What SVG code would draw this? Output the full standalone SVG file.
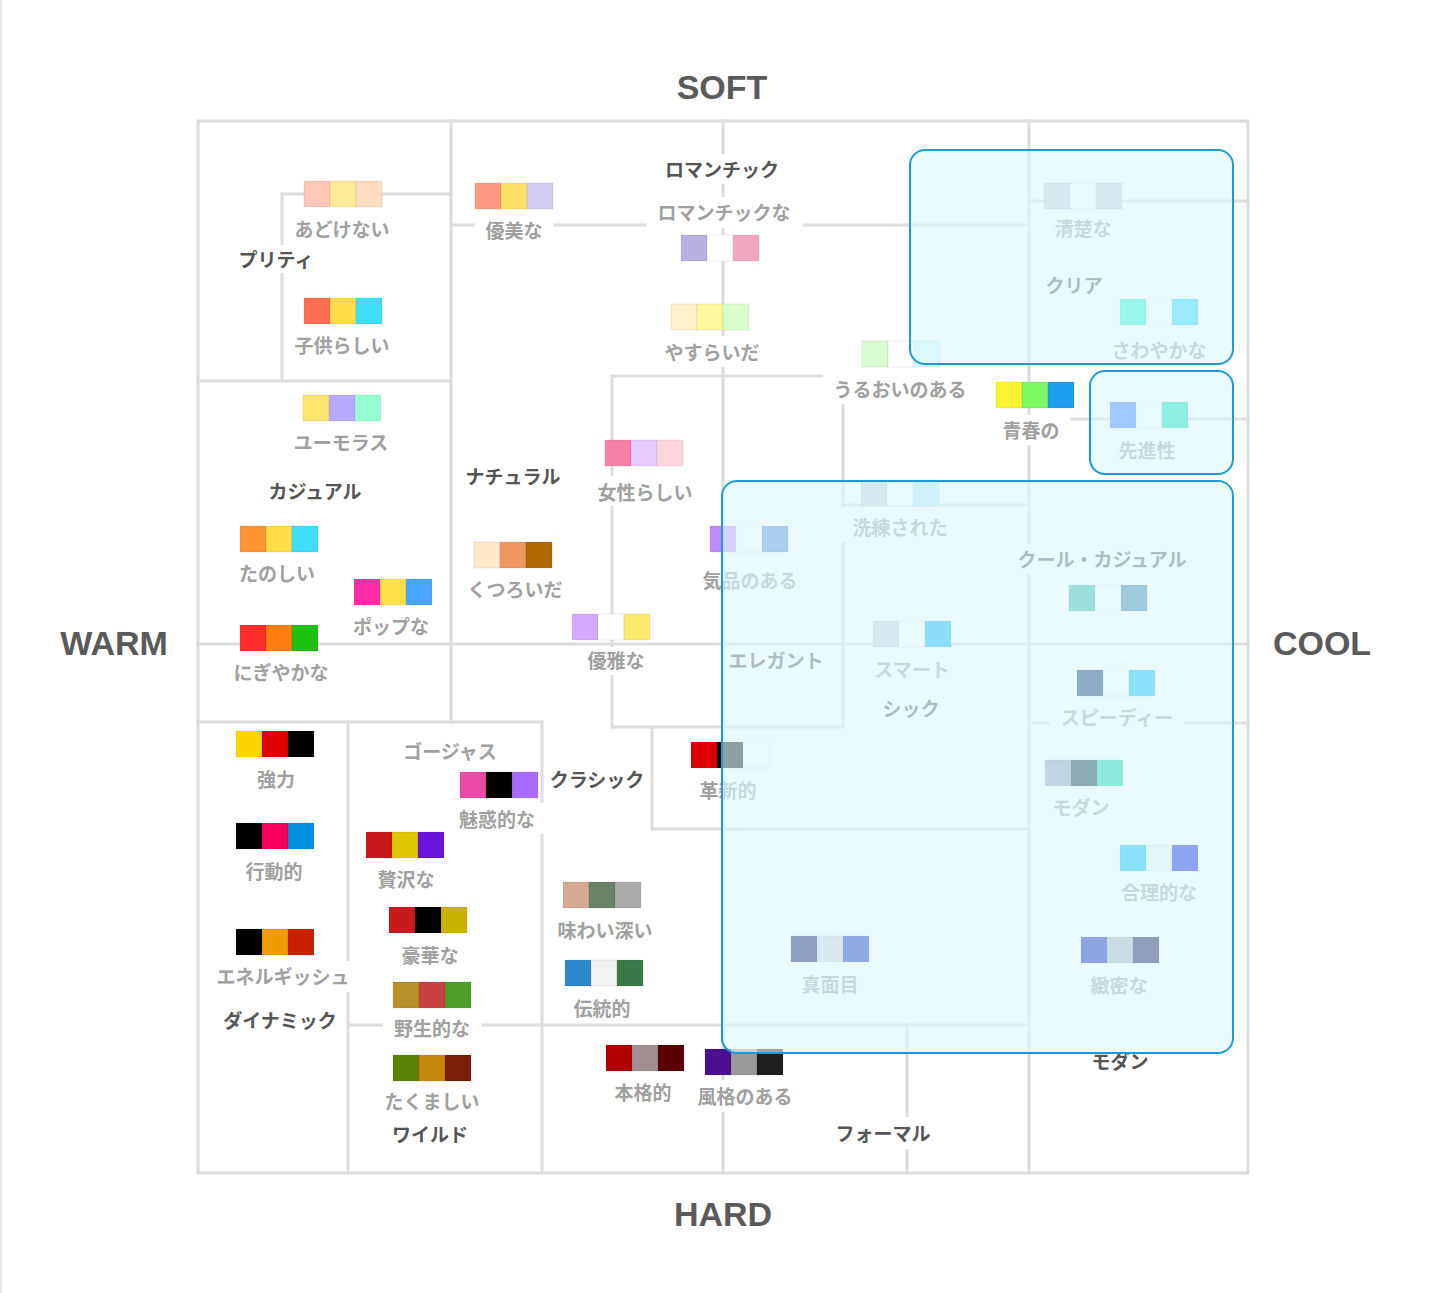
<svg xmlns="http://www.w3.org/2000/svg" width="1440" height="1293" viewBox="0 0 1440 1293">
<style>
.ln{stroke:#dddddd;stroke-width:3;fill:none;stroke-linecap:square}
.lb{fill:#ffffff}
.t{font-family:"Noto Sans CJK JP","Noto Sans",sans-serif;font-size:19px;font-weight:700;text-anchor:middle;dominant-baseline:central;transform:translate(0px,-1px)}
.g{fill:#a0a0a0}
.d{fill:#555555}
.ax{font-family:"Liberation Sans",Arial,sans-serif;font-size:34px;font-weight:700;fill:#5a5a5a;text-anchor:middle}
.sw rect{stroke:rgba(0,0,0,0.07);stroke-width:1}
.ov{fill:#dcf8ff;fill-opacity:0.64;stroke:#1e9bd7;stroke-width:2}
</style>
<rect width="1440" height="1293" fill="#ffffff"/>
<line x1="1" y1="0" x2="1" y2="1293" stroke="#e6e6e6" stroke-width="2"/>

<g id="connectors">
<rect class="ln" x="198" y="121" width="1050" height="1052"/>
<line class="ln" x1="451" y1="121" x2="451" y2="722"/>
<line class="ln" x1="282" y1="194" x2="282" y2="381"/>
<line class="ln" x1="723" y1="121" x2="723" y2="1173"/>
<line class="ln" x1="1029" y1="121" x2="1029" y2="1173"/>
<line class="ln" x1="612" y1="376" x2="612" y2="727"/>
<line class="ln" x1="843" y1="376" x2="843" y2="727"/>
<line class="ln" x1="652" y1="727" x2="652" y2="829"/>
<line class="ln" x1="348" y1="722" x2="348" y2="1173"/>
<line class="ln" x1="542" y1="722" x2="542" y2="1173"/>
<line class="ln" x1="907" y1="1025" x2="907" y2="1173"/>
<line class="ln" x1="282" y1="194" x2="451" y2="194"/>
<line class="ln" x1="198" y1="381" x2="451" y2="381"/>
<line class="ln" x1="451" y1="225" x2="1029" y2="225"/>
<line class="ln" x1="1029" y1="201" x2="1248" y2="201"/>
<line class="ln" x1="612" y1="376" x2="843" y2="376"/>
<line class="ln" x1="843" y1="505" x2="1029" y2="505"/>
<line class="ln" x1="1029" y1="419" x2="1248" y2="419"/>
<line class="ln" x1="198" y1="644" x2="1248" y2="644"/>
<line class="ln" x1="198" y1="722" x2="542" y2="722"/>
<line class="ln" x1="612" y1="727" x2="843" y2="727"/>
<line class="ln" x1="1029" y1="723" x2="1248" y2="723"/>
<line class="ln" x1="652" y1="829" x2="1029" y2="829"/>
<line class="ln" x1="348" y1="1025" x2="1029" y2="1025"/>
</g>

<g id="axes">
<text class="ax" x="722" y="99">SOFT</text>
<text class="ax" x="723" y="1226">HARD</text>
<text class="ax" x="114" y="655">WARM</text>
<text class="ax" x="1322" y="655">COOL</text>
</g>

<g id="n-adokenai"><g class="sw"><rect x="304" y="181" width="26" height="26" fill="#ffc8b8"/><rect x="330" y="181" width="26" height="26" fill="#ffeb99"/><rect x="356" y="181" width="26" height="26" fill="#ffdcbf"/></g><rect class="lb" x="286" y="215" width="112" height="28"/><text class="t g" x="342" y="229">あどけない</text></g>
<g id="n-pretty"><rect class="lb" x="230" y="245" width="92" height="28"/><text class="t d" x="276" y="259">プリティ</text></g>
<g id="n-kodomo"><g class="sw"><rect x="304" y="298" width="26" height="26" fill="#ff6e50"/><rect x="330" y="298" width="26" height="26" fill="#ffdd4a"/><rect x="356" y="298" width="26" height="26" fill="#40ddff"/></g><rect class="lb" x="286" y="331" width="112" height="28"/><text class="t g" x="342" y="345">子供らしい</text></g>
<g id="n-yubi"><g class="sw"><rect x="475" y="183" width="26" height="26" fill="#ff9980"/><rect x="501" y="183" width="26" height="26" fill="#ffe066"/><rect x="527" y="183" width="26" height="26" fill="#d4ccf2"/></g><rect class="lb" x="475" y="216" width="79" height="29"/><text class="t g" x="514" y="230">優美な</text></g>
<g id="n-romantic"><rect class="lb" x="656" y="154" width="132" height="30"/><text class="t d" x="722" y="169">ロマンチック</text></g>
<g id="n-romanticna"><rect class="lb" x="646" y="197" width="157" height="31"/><text class="t g" x="724" y="212">ロマンチックな</text><g class="sw"><rect x="681" y="235" width="26" height="26" fill="#b8b0e0"/><rect x="707" y="235" width="26" height="26" fill="#ffffff"/><rect x="733" y="235" width="26" height="26" fill="#f0a8c0"/></g></g>
<g id="n-yasuraida"><g class="sw"><rect x="671" y="304" width="26" height="26" fill="#fff0cc"/><rect x="697" y="304" width="26" height="26" fill="#fff6a0"/><rect x="723" y="304" width="26" height="26" fill="#d8ffcc"/></g><rect class="lb" x="655" y="336" width="114" height="31"/><text class="t g" x="712" y="352">やすらいだ</text></g>
<g id="n-uruoi"><g class="sw"><rect x="862" y="341" width="26" height="26" fill="#d8fdd0"/><rect x="888" y="341" width="26" height="26" fill="#ffffff"/><rect x="914" y="341" width="26" height="26" fill="#d4f8fd"/></g><rect class="lb" x="823" y="374" width="154" height="30"/><text class="t g" x="900" y="389">うるおいのある</text></g>
<g id="n-seishun"><g class="sw"><rect x="996" y="382" width="26" height="26" fill="#fbf432"/><rect x="1022" y="382" width="26" height="26" fill="#7cf862"/><rect x="1048" y="382" width="26" height="26" fill="#1e9ef0"/></g><rect class="lb" x="993" y="415" width="78" height="30"/><text class="t g" x="1031" y="430">青春の</text></g>
<g id="n-seiso"><g class="sw"><rect x="1044" y="183" width="26" height="26" fill="#c8cdd0"/><rect x="1070" y="183" width="26" height="26" fill="#ffffff"/><rect x="1096" y="183" width="26" height="26" fill="#c8cdd0"/></g><rect class="lb" x="1045" y="214" width="76" height="28"/><text class="t g" x="1083" y="228">清楚な</text></g>
<g id="n-clear"><text class="t d" x="1074" y="285">クリア</text></g>
<g id="n-sawayaka"><g class="sw"><rect x="1120" y="299" width="26" height="26" fill="#22f0d2"/><rect x="1146" y="299" width="26" height="26" fill="#ffffff"/><rect x="1172" y="299" width="26" height="26" fill="#20d0f5"/></g><text class="t g" x="1159" y="350">さわやかな</text></g>
<g id="n-senshin"><g class="sw"><rect x="1110" y="402" width="26" height="26" fill="#3579ff"/><rect x="1136" y="402" width="26" height="26" fill="#ffffff"/><rect x="1162" y="402" width="26" height="26" fill="#00ddae"/></g><rect class="lb" x="1109" y="436" width="76" height="28"/><text class="t g" x="1147" y="450">先進性</text></g>
<g id="n-humor"><g class="sw"><rect x="303" y="395" width="26" height="26" fill="#ffe66e"/><rect x="329" y="395" width="26" height="26" fill="#b8aaff"/><rect x="355" y="395" width="26" height="26" fill="#98ffd4"/></g><text class="t g" x="341" y="442">ユーモラス</text></g>
<g id="n-casual"><text class="t d" x="315" y="491">カジュアル</text></g>
<g id="n-tanoshii"><g class="sw"><rect x="240" y="526" width="26" height="26" fill="#ff9530"/><rect x="266" y="526" width="26" height="26" fill="#ffdd4a"/><rect x="292" y="526" width="26" height="26" fill="#40ddff"/></g><text class="t g" x="277" y="573">たのしい</text></g>
<g id="n-pop"><g class="sw"><rect x="354" y="579" width="26" height="26" fill="#ff2ea8"/><rect x="380" y="579" width="26" height="26" fill="#ffdf48"/><rect x="406" y="579" width="26" height="26" fill="#48a8ff"/></g><text class="t g" x="391" y="626">ポップな</text></g>
<g id="n-nigiyaka"><g class="sw"><rect x="240" y="625" width="26" height="26" fill="#ff2c2c"/><rect x="266" y="625" width="26" height="26" fill="#ff7e10"/><rect x="292" y="625" width="26" height="26" fill="#20c010"/></g><text class="t g" x="281" y="672">にぎやかな</text></g>
<g id="n-natural"><text class="t d" x="513" y="476">ナチュラル</text></g>
<g id="n-josei"><g class="sw"><rect x="605" y="440" width="26" height="26" fill="#f880a8"/><rect x="631" y="440" width="26" height="26" fill="#e4ccff"/><rect x="657" y="440" width="26" height="26" fill="#ffd6de"/></g><rect class="lb" x="590" y="476" width="110" height="30"/><text class="t g" x="645" y="492">女性らしい</text></g>
<g id="n-kutsuroida"><g class="sw"><rect x="474" y="542" width="26" height="26" fill="#ffe8c8"/><rect x="500" y="542" width="26" height="26" fill="#f09660"/><rect x="526" y="542" width="26" height="26" fill="#b06800"/></g><text class="t g" x="515" y="589">くつろいだ</text></g>
<g id="n-yuga"><g class="sw"><rect x="572" y="614" width="26" height="26" fill="#d4aaff"/><rect x="598" y="614" width="26" height="26" fill="#ffffff"/><rect x="624" y="614" width="26" height="26" fill="#f9eb6c"/></g><rect class="lb" x="580" y="647" width="72" height="28"/><text class="t g" x="616" y="660">優雅な</text></g>
<g id="n-kihin"><g class="sw"><rect x="710" y="526" width="26" height="26" fill="#bf8cff"/><rect x="736" y="526" width="26" height="26" fill="#ffffff"/><rect x="762" y="526" width="26" height="26" fill="#4f84d2"/></g><text class="t g" x="750" y="580">気品のある</text></g>
<g id="n-elegant"><text class="t d" x="776" y="660">エレガント</text></g>
<g id="n-senren"><g class="sw"><rect x="861" y="480" width="26" height="26" fill="#c8cdd2"/><rect x="887" y="480" width="26" height="26" fill="#ffffff"/><rect x="913" y="480" width="26" height="26" fill="#b8e7ed"/></g><rect class="lb" x="840" y="508" width="118" height="34"/><text class="t g" x="900" y="527">洗練された</text></g>
<g id="n-smart"><g class="sw"><rect x="873" y="621" width="26" height="26" fill="#c8cdd2"/><rect x="899" y="621" width="26" height="26" fill="#ffffff"/><rect x="925" y="621" width="26" height="26" fill="#00aeed"/></g><text class="t g" x="912" y="669">スマート</text></g>
<g id="n-chic"><text class="t d" x="911" y="708">シック</text></g>
<g id="n-coolcasual"><rect class="lb" x="1010" y="544" width="185" height="30"/><text class="t d" x="1102" y="559">クール・カジュアル</text><g class="sw"><rect x="1069" y="585" width="26" height="26" fill="#32aea3"/><rect x="1095" y="585" width="26" height="26" fill="#ffffff"/><rect x="1121" y="585" width="26" height="26" fill="#3279a3"/></g></g>
<g id="n-speedy"><g class="sw"><rect x="1077" y="670" width="26" height="26" fill="#002564"/><rect x="1103" y="670" width="26" height="26" fill="#ffffff"/><rect x="1129" y="670" width="26" height="26" fill="#00b8f2"/></g><rect class="lb" x="1050" y="703" width="134" height="29"/><text class="t g" x="1117" y="717">スピーディー</text></g>
<g id="n-modern"><g class="sw"><rect x="1045" y="760" width="26" height="26" fill="#8b96ab"/><rect x="1071" y="760" width="26" height="26" fill="#00252f"/><rect x="1097" y="760" width="26" height="26" fill="#00cd99"/></g><text class="t g" x="1081" y="807">モダン</text></g>
<g id="n-gouri"><g class="sw"><rect x="1120" y="845" width="26" height="26" fill="#00b8ee"/><rect x="1146" y="845" width="26" height="26" fill="#edf2f2"/><rect x="1172" y="845" width="26" height="26" fill="#0010d8"/></g><text class="t g" x="1159" y="892">合理的な</text></g>
<g id="n-chimitsu"><g class="sw"><rect x="1081" y="937" width="26" height="26" fill="#0010ae"/><rect x="1107" y="937" width="26" height="26" fill="#a3a8b8"/><rect x="1133" y="937" width="26" height="26" fill="#000044"/></g><text class="t g" x="1119" y="985">緻密な</text></g>
<g id="n-majime"><g class="sw"><rect x="791" y="936" width="26" height="26" fill="#000059"/><rect x="817" y="936" width="26" height="26" fill="#cdcdcd"/><rect x="843" y="936" width="26" height="26" fill="#0525ae"/></g><text class="t g" x="830" y="984">真面目</text></g>
<g id="n-kakushin"><g class="sw"><rect x="691" y="742" width="26" height="26" fill="#dd0000"/><rect x="717" y="742" width="26" height="26" fill="#000000"/><rect x="743" y="742" width="26" height="26" fill="#ffffff"/></g><text class="t g" x="728" y="790">革新的</text></g>
<g id="n-fukaku"><g class="sw"><rect x="705" y="1049" width="26" height="26" fill="#4a1090"/><rect x="731" y="1049" width="26" height="26" fill="#9a9a9a"/><rect x="757" y="1049" width="26" height="26" fill="#1e1e1e"/></g><rect class="lb" x="688" y="1080" width="114" height="32"/><text class="t g" x="745" y="1096">風格のある</text></g>
<g id="n-kyoryoku"><g class="sw"><rect x="236" y="731" width="26" height="26" fill="#ffd400"/><rect x="262" y="731" width="26" height="26" fill="#e00000"/><rect x="288" y="731" width="26" height="26" fill="#000000"/></g><text class="t g" x="276" y="779">強力</text></g>
<g id="n-kodoteki"><g class="sw"><rect x="236" y="823" width="26" height="26" fill="#000000"/><rect x="262" y="823" width="26" height="26" fill="#f8005c"/><rect x="288" y="823" width="26" height="26" fill="#0090e0"/></g><text class="t g" x="274" y="871">行動的</text></g>
<g id="n-energisch"><g class="sw"><rect x="236" y="929" width="26" height="26" fill="#000000"/><rect x="262" y="929" width="26" height="26" fill="#f09c00"/><rect x="288" y="929" width="26" height="26" fill="#c82000"/></g><rect class="lb" x="208" y="961" width="150" height="31"/><text class="t g" x="283" y="976">エネルギッシュ</text></g>
<g id="n-dynamic"><text class="t d" x="280" y="1020">ダイナミック</text></g>
<g id="n-gorgeous"><text class="t g" x="450" y="751">ゴージャス</text></g>
<g id="n-miwaku"><g class="sw"><rect x="460" y="772" width="26" height="26" fill="#ea4aa8"/><rect x="486" y="772" width="26" height="26" fill="#000000"/><rect x="512" y="772" width="26" height="26" fill="#a86aff"/></g><rect class="lb" x="450" y="803" width="96" height="31"/><text class="t g" x="497" y="819">魅惑的な</text></g>
<g id="n-classic"><text class="t d" x="597" y="779">クラシック</text></g>
<g id="n-zeitaku"><g class="sw"><rect x="366" y="832" width="26" height="26" fill="#c8181c"/><rect x="392" y="832" width="26" height="26" fill="#e0c800"/><rect x="418" y="832" width="26" height="26" fill="#6a14d8"/></g><text class="t g" x="406" y="879">贅沢な</text></g>
<g id="n-goka"><g class="sw"><rect x="389" y="907" width="26" height="26" fill="#c81a1a"/><rect x="415" y="907" width="26" height="26" fill="#000000"/><rect x="441" y="907" width="26" height="26" fill="#c8b400"/></g><text class="t g" x="430" y="955">豪華な</text></g>
<g id="n-yasei"><g class="sw"><rect x="393" y="982" width="26" height="26" fill="#b89028"/><rect x="419" y="982" width="26" height="26" fill="#c84040"/><rect x="445" y="982" width="26" height="26" fill="#4ca028"/></g><rect class="lb" x="383" y="1014" width="99" height="28"/><text class="t g" x="432" y="1028">野生的な</text></g>
<g id="n-takumashii"><g class="sw"><rect x="393" y="1055" width="26" height="26" fill="#5a8208"/><rect x="419" y="1055" width="26" height="26" fill="#c88810"/><rect x="445" y="1055" width="26" height="26" fill="#7a1e0a"/></g><text class="t g" x="432" y="1101">たくましい</text></g>
<g id="n-wild"><text class="t d" x="430" y="1134">ワイルド</text></g>
<g id="n-ajiwai"><g class="sw"><rect x="563" y="882" width="26" height="26" fill="#d4aa90"/><rect x="589" y="882" width="26" height="26" fill="#6a8068"/><rect x="615" y="882" width="26" height="26" fill="#aaaaaa"/></g><text class="t g" x="605" y="930">味わい深い</text></g>
<g id="n-dentou"><g class="sw"><rect x="565" y="960" width="26" height="26" fill="#2e88cc"/><rect x="591" y="960" width="26" height="26" fill="#f2f2f2"/><rect x="617" y="960" width="26" height="26" fill="#3a7848"/></g><text class="t g" x="602" y="1008">伝統的</text></g>
<g id="n-honkaku"><g class="sw"><rect x="606" y="1045" width="26" height="26" fill="#b00000"/><rect x="632" y="1045" width="26" height="26" fill="#a09090"/><rect x="658" y="1045" width="26" height="26" fill="#5a0000"/></g><text class="t g" x="643" y="1092">本格的</text></g>
<g id="n-formal"><rect class="lb" x="827" y="1117" width="112" height="32"/><text class="t d" x="883" y="1133">フォーマル</text></g>
<g id="n-modern2"><text class="t d" x="1120" y="1061">モダン</text></g>

<g id="highlights">
<rect class="ov" x="910" y="150" width="323" height="214" rx="15"/>
<rect class="ov" x="1090" y="371" width="143" height="103" rx="15"/>
<rect class="ov" x="722" y="481" width="511" height="572" rx="15"/>
</g>
</svg>
